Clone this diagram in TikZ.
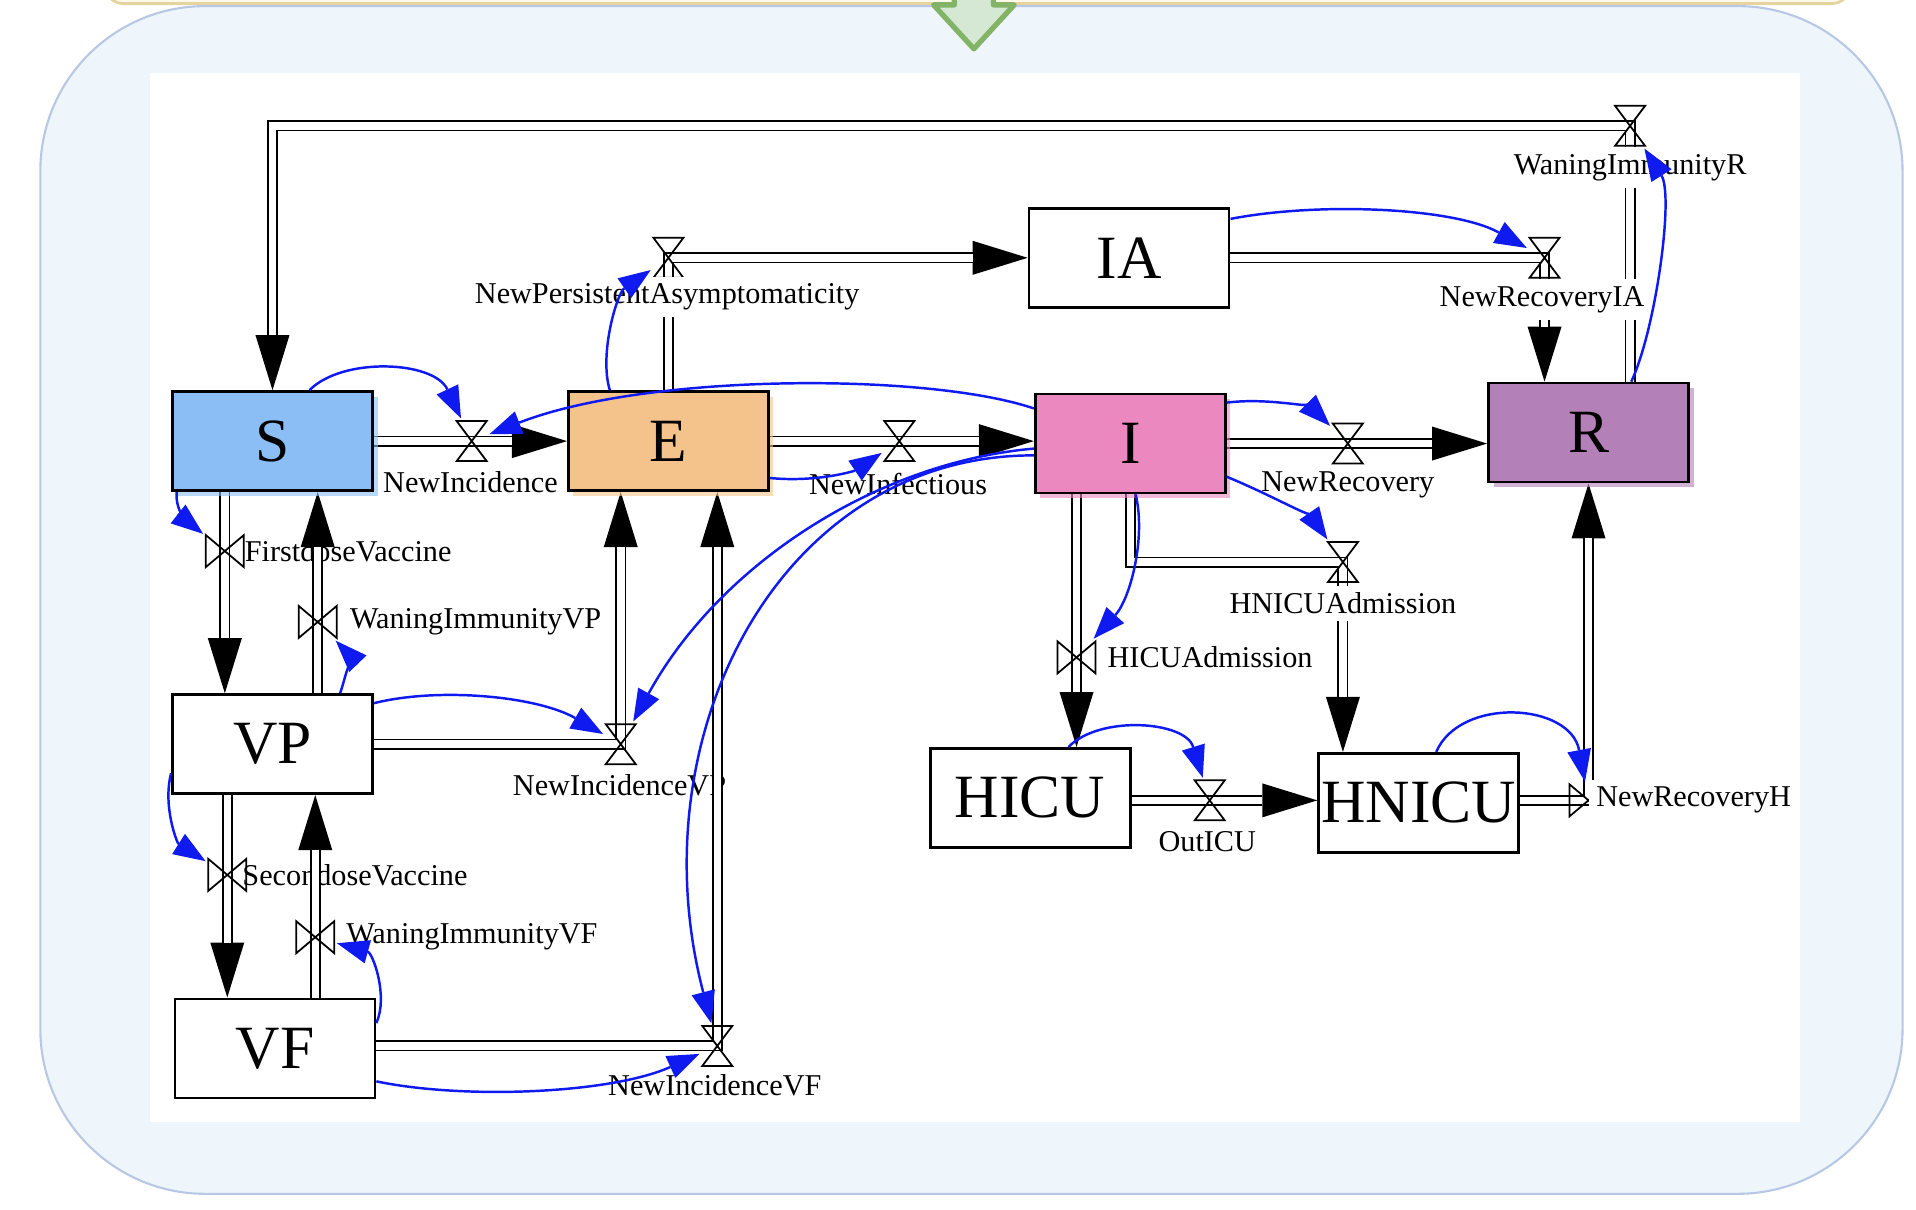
\documentclass[tikz,border=0pt]{standalone}
\usepackage{fontspec}
\setmainfont{Liberation Serif}
\usepackage{xcolor}
\usepackage{tikz}
\usetikzlibrary{positioning, arrows.meta, calc, backgrounds, shadows}

\definecolor{sblue}{RGB}{139,190,245}
\definecolor{eorange}{RGB}{244,195,139}
\definecolor{ipink}{RGB}{234,136,191}
\definecolor{rpurple}{RGB}{180,128,184}
\definecolor{linkblue}{RGB}{14,26,240}
\definecolor{panelfill}{RGB}{238,245,251}
\definecolor{panelline}{RGB}{184,200,228}
\definecolor{creamfill}{RGB}{255,249,234}
\definecolor{creamline}{RGB}{230,212,160}
\definecolor{greenfill}{RGB}{213,232,212}
\definecolor{greenline}{RGB}{130,179,102}

\begin{document}
\begin{tikzpicture}[
    x=0.1222mm, y=-0.1222mm,
    stock/.style={rectangle, draw, fill=white, line width=0.8pt, minimum width=2cm, minimum height=0.99cm, inner sep=0pt, font=\fontsize{17.5}{20}\selectfont},
    tinted/.style={fill=#1, drop shadow={shadow xshift=0.5mm, shadow yshift=-0.5mm, fill=#1, opacity=0.6}},
    hvalve/.style={minimum width=3.4mm, minimum height=4.4mm, inner sep=0pt, path picture={\draw[line width=0.5pt] ([shift={(-1.5mm,2mm)}]path picture bounding box.center) -- ++(3mm,0) -- ++(-3mm,-4mm) -- ++(3mm,0) -- cycle;}},
    vvalve/.style={minimum width=4.2mm, minimum height=3.6mm, inner sep=0pt, path picture={\draw[line width=0.5pt] ([shift={(-1.9mm,1.6mm)}]path picture bounding box.center) -- ++(0,-3.2mm) -- ++(3.8mm,3.2mm) -- ++(0,-3.2mm) -- cycle;}},
    flow/.style={draw, line width=1.1mm, -{Triangle[length=5.5mm, width=3.4mm, line width=0pt]}, postaction={draw=white, line width=0.75mm, -, shorten >=5.5mm}},
    link/.style={draw=linkblue, line width=0.7pt, -{Triangle[length=3.2mm, width=2.4mm, line width=0pt]}},
    rate/.style={font=\fontsize{8.6}{10}\selectfont, inner sep=1pt},
    gaprate/.style={rate, fill=white, inner sep=2pt},
]
\useasboundingbox (0,0) rectangle (1568,990);

% stocks
\node[stock, tinted=sblue] (S) at (223,361) {S};
\node[stock, tinted=eorange] (E) at (547,361) {E};
\node[stock, tinted=ipink, minimum width=1.9cm] (I) at (925,363) {I};
\node[stock, tinted=rpurple] (R) at (1300,354) {R};
\node[stock] (IA) at (924,211) {IA};
\node[stock] (VP) at (223,609) {VP};
\node[stock] (VF) at (225,858) {VF};
\node[stock] (HICU) at (843,653) {HICU};
\node[stock] (HNICU) at (1161,657) {HNICU};

% valves
\node[hvalve] (vNI) at (386,361) {};
\node[hvalve] (vNInf) at (736,361) {};
\node[hvalve] (vNPA) at (547,211) {};
\node[hvalve] (vWR) at (1334,103) {};
\node[hvalve] (vNRIA) at (1264,211) {};
\node[hvalve] (vNR) at (1103,363) {};
\node[hvalve] (vHNA) at (1099,460) {};
\node[hvalve] (vOut) at (990,655) {};
\node[hvalve] (vNIVP) at (508,609) {};
\node[hvalve] (vNIVF) at (587,856) {};
\node[vvalve] (vHICU) at (881,538) {};
\node[vvalve] (vFD) at (184,451) {};
\node[vvalve] (vWVP) at (260,509) {};
\node[vvalve] (vSD) at (186,716) {};
\node[vvalve] (vWVF) at (258,767) {};
\node[vvalve] (vNRH) at (1300,655) {};

\begin{scope}[on background layer]
  \clip (0,0) rectangle (1568,990);
  \draw[fill=creamfill, draw=creamline, line width=0.8pt, rounded corners=2mm] (85,-40) rectangle (1515,3);
  \draw[fill=panelfill, draw=panelline, line width=0.6pt, rounded corners=1.65cm] (33,5) rectangle (1557,977);
  \fill[white] (123,60) rectangle (1473,918);
  \draw[fill=greenfill, draw=greenline, line width=1.5pt, line join=round] (781,-5) -- (781,4) -- (764,4) -- (797,40) -- (830,4) -- (813,4) -- (813,-5);
  % rates that the pipes run over
  \node[rate, anchor=west] (lFD) at (197,451) {FirstdoseVaccine};
  \node[rate, anchor=west] (lSD) at (195,716) {SecondoseVaccine};
  \node[rate] (lNIVP) at (507,643) {NewIncidenceVP};
  % pipes
  \draw[flow] (S.east) -- (E.west);
  \draw[flow] (E.east) -- (E.east -| I.west);
  \draw[flow] (I.east) -- (I.east -| R.west);
  \draw[flow] (E.north) |- (IA.west);
  \draw[flow] (IA.east) -- (vNRIA.center) -- (vNRIA |- R.north);
  \draw[flow] (vWR |- R.north) -- (vWR.center) -| (S.north);
  \draw[flow] (vHICU |- I.south) -- (vHICU |- HICU.north);
  \draw[flow] (I.south) |- (vHNA.center) -- (vHNA |- HNICU.north);
  \draw[flow] (HICU.east |- vOut) -- (vOut -| HNICU.west);
  \draw[flow] (HNICU.east |- vNRH) -- (vNRH.center) -- (vNRH |- R.south);
  \draw[flow] (vFD |- S.south) -- (vFD |- VP.north);
  \draw[flow] (vWVP |- VP.north) -- (vWVP |- S.south);
  \draw[flow] (vSD |- VP.south) -- (vSD |- VF.north);
  \draw[flow] (vWVF |- VF.north) -- (vWVF |- VP.south);
  \draw[flow] (VP.east) -- (vNIVP.center) -- (vNIVP |- E.south);
  \draw[flow] (VF.east |- vNIVF) -- (vNIVF.center) -- (vNIVF |- E.south);
\end{scope}

% rates
\node[rate] (lNI) at (385,395) {NewIncidence};
\node[rate] (lNInf) at (735,396) {NewInfectious};
\node[gaprate] (lNPA) at (546,243) {NewPersistentAsymptomaticity};
\node[gaprate] (lWR) at (1334,137) {WaningImmunityR};
\node[gaprate] (lNRIA) at (1262,245) {NewRecoveryIA};
\node[rate] (lNR) at (1103,397) {NewRecovery};
\node[gaprate] (lHNA) at (1099,494) {HNICUAdmission};
\node[rate, anchor=west] (lHICU) at (903,538) {HICUAdmission};
\node[rate] (lOut) at (988,689) {OutICU};
\node[gaprate, anchor=west] (lNRH) at (1300,655) {NewRecoveryH};
\node[rate, anchor=west] (lWVP) at (283,509) {WaningImmunityVP};
\node[rate, anchor=west] (lWVF) at (280,767) {WaningImmunityVF};
\node[rate] (lNIVF) at (585,888) {NewIncidenceVF};

% information links
\draw[link] (S.54) .. controls (280,292) and (355,295) .. (vNI);
\draw[link] (I.160) .. controls (760,305) and (530,305) .. (vNI);
\draw[link] (E.139) .. controls (490,290) and (505,240) .. (vNPA);
\draw[link] (E.-20) .. controls (670,395) and (700,385) .. (vNInf);
\draw[link] (I.183) .. controls (720,378) and (590,460) .. (vNIVP);
\draw[link] (I.187) .. controls (640,372) and (520,600) .. (vNIVF);
\draw[link] (IA.21) .. controls (1080,165) and (1190,170) .. (vNRIA);
\draw[link] (R.50) .. controls (1355,270) and (1370,160) .. (vWR);
\draw[link] (I.23) .. controls (1040,325) and (1075,335) .. (vNR);
\draw[link] (I.-19) .. controls (1040,405) and (1075,425) .. (vHNA);
\draw[link] (I.-84) .. controls (938,440) and (925,490) .. (vHICU);
\draw[link] (HICU.53) .. controls (900,585) and (970,590) .. (vOut);
\draw[link] (HNICU.71) .. controls (1195,570) and (1285,575) .. (vNRH);
\draw[link] (S.-152) .. controls (143,418) and (155,428) .. (vFD);
\draw[link] (VP.37) .. controls (283,555) and (285,535) .. (vWVP);
\draw[link] (VP.22) .. controls (360,562) and (440,570) .. (vNIVP);
\draw[link] (VP.-164) .. controls (133,660) and (145,690) .. (vSD);
\draw[link] (VF.14) .. controls (318,815) and (305,780) .. (vWVF);
\draw[link] (VF.-18) .. controls (380,900) and (500,895) .. (vNIVF);
\end{tikzpicture}
\end{document}
